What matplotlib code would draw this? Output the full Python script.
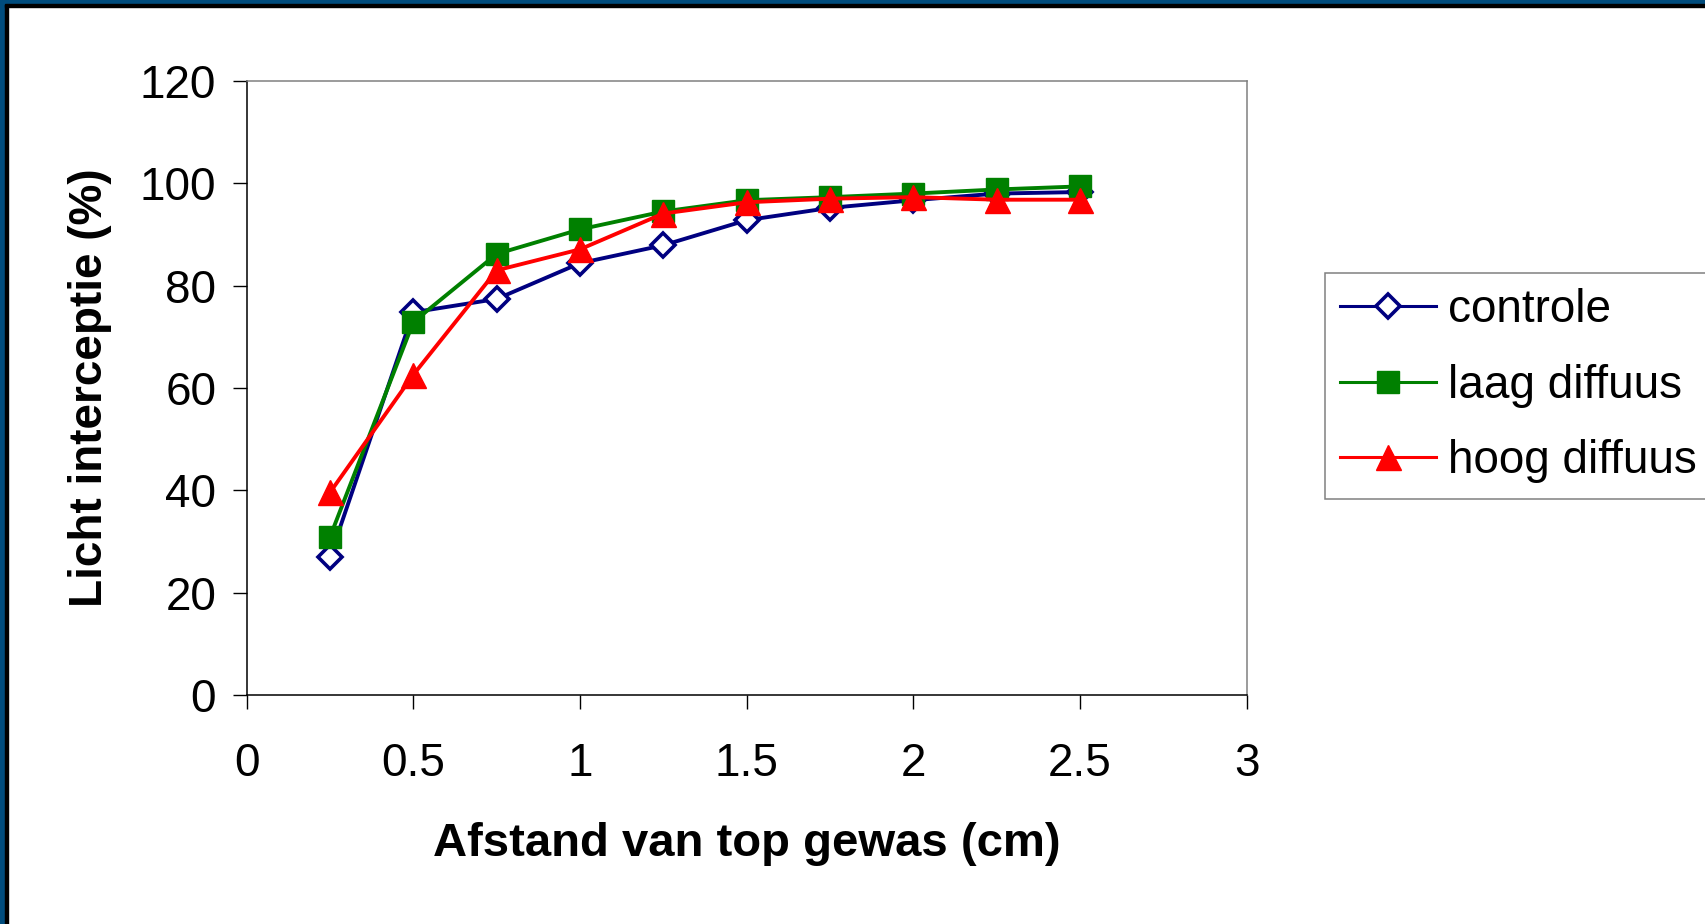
import matplotlib.pyplot as plt
from matplotlib.patches import Rectangle

plt.rcParams["font.family"] = ["Liberation Sans", "DejaVu Sans"]

afstand = [0.25, 0.5, 0.75, 1.0, 1.25, 1.5, 1.75, 2.0, 2.25, 2.5]
controle = [27.0, 74.8, 77.4, 84.4, 87.9, 92.8, 95.2, 96.7, 98.0, 98.3]
laag_diffuus = [30.9, 72.9, 86.2, 91.0, 94.5, 96.7, 97.3, 98.0, 98.8, 99.4]
hoog_diffuus = [39.6, 62.6, 83.0, 87.1, 94.1, 96.3, 97.0, 97.3, 96.8, 96.8]

x_ticks = [0, 0.5, 1, 1.5, 2, 2.5, 3]
x_tick_labels = ["0", "0.5", "1", "1.5", "2", "2.5", "3"]
y_ticks = [0, 20, 40, 60, 80, 100, 120]

W, H = 1706, 924
fig = plt.figure(figsize=(W / 100, H / 100), dpi=100, facecolor="white")

# slide frame: blue band with a thin black line on the left and top edges
blue = "#004c7d"
fig.patches.extend([
    Rectangle((0, 0), 5 / W, 1, transform=fig.transFigure, color=blue, zorder=0),
    Rectangle((5 / W, 0), 3 / W, 1 - 4 / H, transform=fig.transFigure, color="black", zorder=0),
    Rectangle((0, 1 - 4 / H), 1, 4 / H, transform=fig.transFigure, color=blue, zorder=0),
    Rectangle((5 / W, 1 - 7 / H), 1, 3 / H, transform=fig.transFigure, color="black", zorder=0),
])

ax = fig.add_axes([246.7 / W, 1 - 695 / H, 1000 / W, 614 / H])

ax.plot(afstand, controle, color="#000080", lw=2.8, marker="D", ms=12,
        mfc="white", mec="#000080", mew=2.6, label="controle")
ax.plot(afstand, laag_diffuus, color="#008000", lw=2.8, marker="s", ms=15.5,
        mfc="#008000", mec="#008000", label="laag diffuus")
ax.plot(afstand, hoog_diffuus, color="#ff0000", lw=2.8, marker="^", ms=18,
        mfc="#ff0000", mec="#ff0000", label="hoog diffuus")

ax.set_xlim(0, 3)
ax.set_ylim(0, 120)
ax.set_xticks(x_ticks, x_tick_labels)
ax.set_yticks(y_ticks)
ax.tick_params(axis="both", direction="out", length=10, width=1, labelsize=33)
ax.tick_params(axis="x", pad=24)
ax.tick_params(axis="y", pad=12)

for side in ("left", "bottom"):
    ax.spines[side].set_color("black")
    ax.spines[side].set_linewidth(1.1)
for side in ("top", "right"):
    ax.spines[side].set_color("#808080")
    ax.spines[side].set_linewidth(1.1)

ax.set_xlabel("Afstand van top gewas (cm)", fontsize=34, fontweight="bold", labelpad=26)
ax.set_ylabel("Licht interceptie (%)", fontsize=33, fontweight="bold", labelpad=20)

leg = fig.legend(loc="upper left", bbox_to_anchor=(1325 / W, 1 - 273 / H),
                 fontsize=33, frameon=True, fancybox=False, framealpha=1,
                 edgecolor="#808080", borderpad=0.33, handlelength=2.1,
                 handletextpad=0.25, labelspacing=0.69, borderaxespad=0,
                 numpoints=1)
leg.get_frame().set_linewidth(1.1)
for line in leg.get_lines():
    line.set_linewidth(2.2)

fig.savefig("out.png", dpi=100, facecolor="white")
